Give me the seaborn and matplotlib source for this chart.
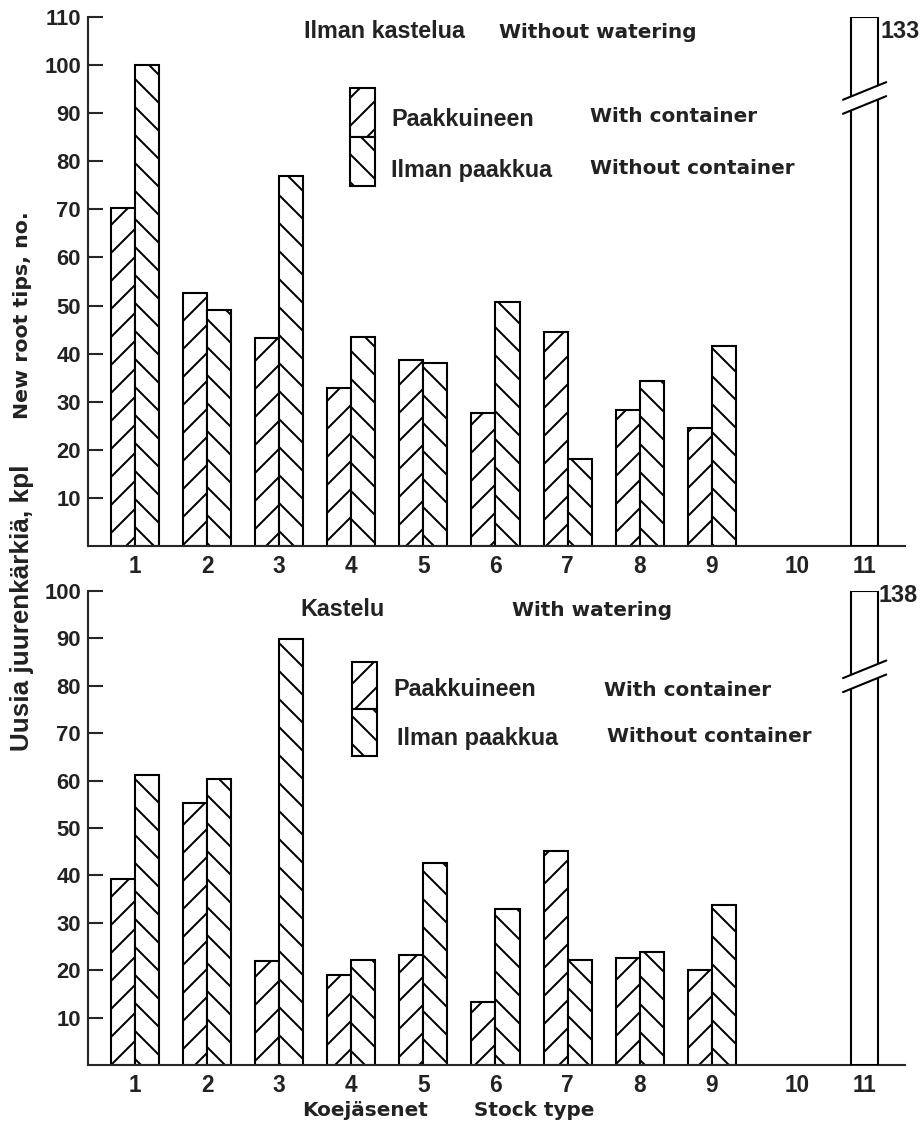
import numpy as np
import pandas as pd
import matplotlib
matplotlib.use("Agg")
import matplotlib.pyplot as plt
import seaborn as sns
from matplotlib.patches import Rectangle, Polygon
from matplotlib import transforms

# ---------------- data ----------------
stock_types = ["1", "2", "3", "4", "5", "6", "7", "8", "9"]
extra_types = ["10", "11"]
series_names = ["Paakkuineen", "Ilman paakkua"]

# Without watering (Ilman kastelua)
dry_with = [70.2, 52.6, 43.2, 32.9, 38.6, 27.6, 44.6, 28.2, 24.5]
dry_without = [100.0, 49.0, 77.0, 43.4, 38.0, 50.7, 18.1, 34.4, 41.6]
dry_type11 = 133
dry_yticks = [10, 20, 30, 40, 50, 60, 70, 80, 90, 100, 110]

# With watering (Kastelu)
wet_with = [39.2, 55.2, 21.9, 18.9, 23.2, 13.2, 45.1, 22.6, 20.1]
wet_without = [61.1, 60.3, 89.8, 22.2, 42.6, 32.9, 22.2, 23.9, 33.8]
wet_type11 = 138
wet_yticks = [10, 20, 30, 40, 50, 60, 70, 80, 90, 100]

# ---------------- style ----------------
W, H, DPI = 923, 1126, 84
K = 125 / DPI          # keeps point sizes tuned for 125 dpi
LW = 1.2 * K

sns.set_style("ticks")
plt.rcParams["font.family"] = ["Liberation Sans", "DejaVu Sans"]
plt.rcParams["hatch.linewidth"] = 1.15 * K
plt.rcParams["axes.linewidth"] = LW

FIN = dict(family=["Liberation Sans", "DejaVu Sans"], weight="bold", color="#222222")
ENG = dict(family=["DejaVu Sans"], weight="bold", color="#222222")

fig = plt.figure(figsize=(W / DPI, H / DPI), dpi=DPI)
fig.patch.set_facecolor("white")


def fx(x):
    return x / W


def fy(y):
    return 1 - y / H


# category positions (category units): 1..9 evenly, 10 and 11 wider apart
pos_main = list(range(9))
pos_extra = [9.18, 10.12]


def panel(ax, v_with, v_without, big_val, ymax, yticks, break_frac):
    df = pd.DataFrame({
        "type": stock_types * 2,
        "group": [series_names[0]] * len(stock_types) + [series_names[1]] * len(stock_types),
        "value": list(v_with) + list(v_without),
    })
    sns.barplot(data=df, x="type", y="value", hue="group", order=stock_types,
                hue_order=series_names, width=0.667, palette=["white", "white"],
                edgecolor="black", linewidth=LW, saturation=1, errorbar=None,
                legend=False, ax=ax)
    n = len(stock_types)
    for i, p in enumerate(ax.patches[:2 * n]):
        p.set_hatch("/" if i < n else "\\")
        p.set_edgecolor("black")
    # tall single bar for type 11, cut at axis top
    ax.bar([pos_extra[1]], [min(big_val, ymax)], width=0.37, color="white",
           edgecolor="black", linewidth=LW, zorder=3)
    ax.set_xlim(-0.652, 10.68)
    ax.set_ylim(0, ymax)
    ax.set_yticks(yticks)
    ax.set_yticklabels([str(t) for t in yticks], fontsize=12.7 * K, fontweight="bold",
                       color="#222222")
    ax.set_xticks(pos_main + pos_extra)
    ax.set_xticklabels(stock_types + extra_types, fontsize=13 * K, fontweight="bold",
                       color="#222222")
    ax.tick_params(axis="x", length=0, pad=5 * K)
    ax.tick_params(axis="y", direction="in", length=8.5 * K, width=LW, pad=4 * K)
    ax.set_xlabel("")
    ax.set_ylabel("")
    ax.set_facecolor("white")
    sns.despine(ax=ax)

    # axis-break marks on the type 11 bar
    ax_h_px = ax.get_position().height * H
    slope = 17.6 / ax_h_px
    gap = 14.0 / ax_h_px
    tr = transforms.blended_transform_factory(ax.transData, ax.transAxes)
    x0, x1 = pos_extra[1] - 0.3, pos_extra[1] + 0.3
    c = break_frac
    lo0, lo1 = c - gap / 2 - slope / 2, c - gap / 2 + slope / 2
    hi0, hi1 = c + gap / 2 - slope / 2, c + gap / 2 + slope / 2
    ax.add_patch(Polygon([(x0, lo0), (x1, lo1), (x1, hi1), (x0, hi0)], closed=True,
                         facecolor="white", edgecolor="none", transform=tr,
                         zorder=4, clip_on=False))
    ax.plot([x0, x1], [lo0, lo1], color="black", lw=LW, transform=tr, zorder=5,
            clip_on=False)
    ax.plot([x0, x1], [hi0, hi1], color="black", lw=LW, transform=tr, zorder=5,
            clip_on=False)


ax_top = fig.add_axes([fx(88), fy(546), (905 - 88) / W, (546 - 17) / H])
ax_bot = fig.add_axes([fx(88), fy(1065), (905 - 88) / W, (1065 - 591) / H])

panel(ax_top, dry_with, dry_without, dry_type11, 110, dry_yticks, 0.847)
panel(ax_bot, wet_with, wet_without, wet_type11, 100, wet_yticks, 0.82)


# ---------------- texts ----------------
def txt(x, y, s, props, size, **kw):
    fig.text(fx(x), fy(y), s, fontsize=size * K, ha=kw.pop("ha", "left"),
             va=kw.pop("va", "center"), **props, **kw)


txt(304, 32, "Ilman kastelua", FIN, 13.5)
txt(499, 33, "Without watering", ENG, 11.5)
txt(300, 609, "Kastelu", FIN, 13.5)
txt(512, 610, "With watering", ENG, 11.5)

txt(881, 31, str(dry_type11), FIN, 13.5)
txt(879, 596, str(wet_type11), FIN, 13.5)


def legend_box(x, y_top, y_mid, y_bot, w):
    r1 = Rectangle((fx(x), fy(y_mid)), w / W, (y_mid - y_top) / H, transform=fig.transFigure,
                   facecolor="white", edgecolor="black", lw=LW, hatch="/")
    r2 = Rectangle((fx(x), fy(y_bot)), w / W, (y_bot - y_mid) / H, transform=fig.transFigure,
                   facecolor="white", edgecolor="black", lw=LW, hatch="\\")
    fig.add_artist(r1)
    fig.add_artist(r2)


legend_box(350, 88, 137, 186, 25)
txt(391, 120, series_names[0], FIN, 13.5)
txt(590, 117, "With container", ENG, 11.5)
txt(391, 170, series_names[1], FIN, 13.5)
txt(590, 168, "Without container", ENG, 11.5)

legend_box(352, 662, 709, 756, 25)
txt(393, 690, series_names[0], FIN, 13.5)
txt(604, 690, "With container", ENG, 11.5)
txt(397, 738, series_names[1], FIN, 13.5)
txt(607, 737, "Without container", ENG, 11.5)

# axis titles
txt(302, 1110, "Koejäsenet", ENG, 11.5)
txt(474, 1110, "Stock type", ENG, 11.5)
txt(22, 608, "Uusia juurenkärkiä, kpl", FIN, 15, rotation=90, ha="center")
txt(23, 315, "New root tips, no.", ENG, 11.8, rotation=90, ha="center")

fig.savefig("out.png", dpi=DPI, facecolor="white")
